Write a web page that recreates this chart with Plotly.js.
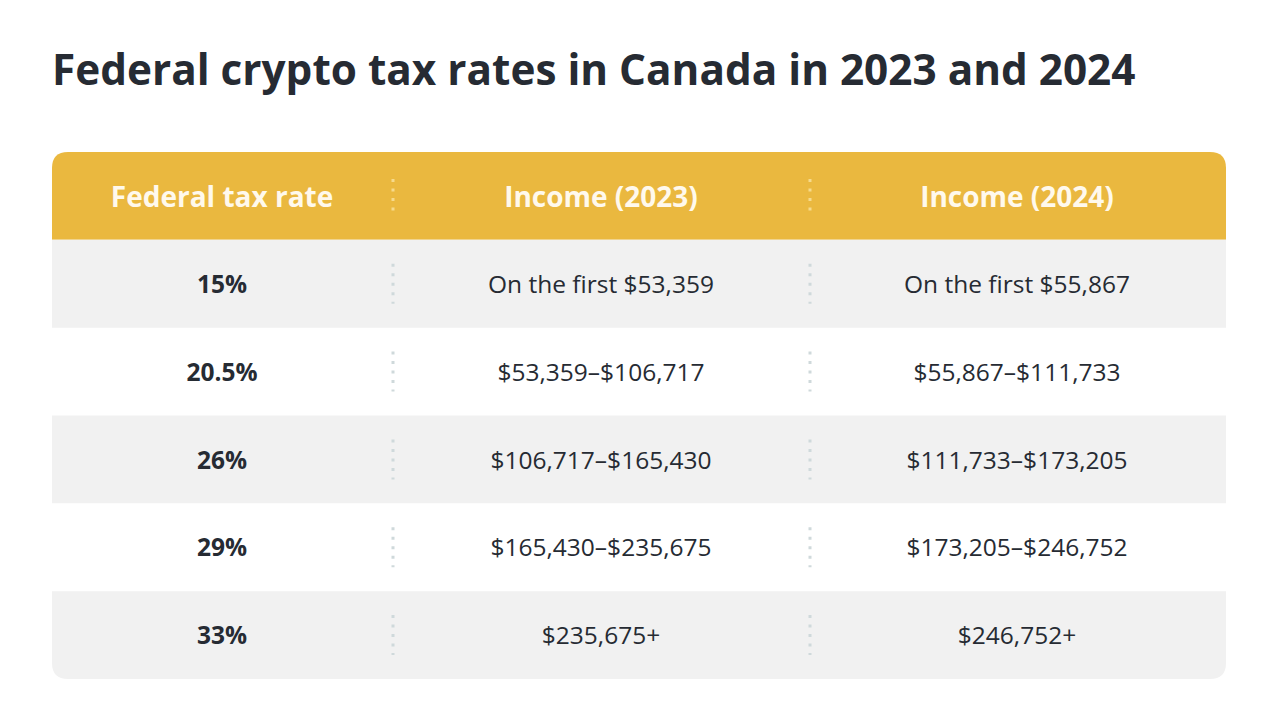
<!DOCTYPE html>
<html>
<head>
<meta charset="utf-8">
<script src="https://cdn.plot.ly/plotly-3.0.1.min.js"></script>
<style>html,body{margin:0;padding:0;background:#fff;}#chart{width:1278px;height:718px;}</style>
</head>
<body>
<div id="chart"></div>
<script>
const titleText = "Federal crypto tax rates in Canada in 2023 and 2024";
const headers = ["Federal tax rate", "Income (2023)", "Income (2024)"];
const rates = ["15%", "20.5%", "26%", "29%", "33%"];
const income2023 = ["On the first $53,359", "$53,359–$106,717", "$106,717–$165,430", "$165,430–$235,675", "$235,675+"];
const income2024 = ["On the first $55,867", "$55,867–$111,733", "$111,733–$173,205", "$173,205–$246,752", "$246,752+"];

// layout helpers (pixel-like x units, one y unit per row)
const W = 1174;
const colEdges = [0, 341, 758, W];
const colCenters = [170, 549, 965];
const nRows = rates.length + 1;
const rowPx = (718 - 152 - 39) / nRows;
const rX = 16, rY = 16 / rowPx;
const headShift = 4 / rowPx;
const textShift = 3 / rowPx;

const darkText = "#262B33";
const headerBg = "#EAB83F";
const grayBg = "#F1F1F1";

const shapes = [];
// header with rounded top corners
shapes.push({
  type: "path", xref: "x", yref: "y", layer: "below",
  path: `M0,1 L0,${rY} Q0,0 ${rX},0 L${W - rX},0 Q${W},0 ${W},${rY} L${W},1 Z`,
  fillcolor: headerBg, line: {width: 0}
});
// data rows
rates.forEach((_, i) => {
  const y0 = i + 1, y1 = i + 2;
  if (i % 2 === 0) {
    if (i === rates.length - 1) {
      shapes.push({
        type: "path", xref: "x", yref: "y", layer: "below",
        path: `M0,${y0} L${W},${y0} L${W},${y1 - rY} Q${W},${y1} ${W - rX},${y1} L${rX},${y1} Q0,${y1} 0,${y1 - rY} Z`,
        fillcolor: grayBg, line: {width: 0}
      });
    } else {
      shapes.push({type: "rect", xref: "x", yref: "y", layer: "below",
        x0: 0, x1: W, y0: y0, y1: y1, fillcolor: grayBg, line: {width: 0}});
    }
  }
});
// dotted separators
for (let r = 0; r < nRows; r++) {
  const c = r + 0.5;
  const half = r === 0 ? 17 / rowPx : 20 / rowPx;
  [colEdges[1], colEdges[2]].forEach(x => {
    shapes.push({type: "line", xref: "x", yref: "y", x0: x, x1: x,
      y0: c - half, y1: c + half,
      line: {color: r === 0 ? "#F6DA8C" : "#CFD9DB", width: 3, dash: "3px,6.5px"}});
  });
}

const rowY = rates.map((_, i) => i + 1.5 + textShift);
const headY = headers.map(() => 0.5 + headShift);
const traces = [
  {x: colCenters, y: headY, text: headers, mode: "text", type: "scatter",
   textposition: "middle center",
   textfont: {family: "Open Sans", size: 28, color: "#FFF9EC", weight: 700}},
  {x: rates.map(() => colCenters[0]), y: rowY, text: rates, mode: "text", type: "scatter",
   textposition: "middle center",
   textfont: {family: "Open Sans", size: 24.5, color: darkText, weight: 700}},
  {x: income2023.map(() => colCenters[1]), y: rowY, text: income2023, mode: "text", type: "scatter",
   textposition: "middle center",
   textfont: {family: "Open Sans", size: 24.5, color: darkText}},
  {x: income2024.map(() => colCenters[2]), y: rowY, text: income2024, mode: "text", type: "scatter",
   textposition: "middle center",
   textfont: {family: "Open Sans", size: 24.5, color: darkText}}
];

const layout = {
  width: 1278, height: 718,
  margin: {l: 52, r: 52, t: 152, b: 39, pad: 0},
  paper_bgcolor: "#ffffff", plot_bgcolor: "rgba(0,0,0,0)",
  showlegend: false, hovermode: false,
  title: {text: titleText, x: 52 / 1278, xref: "container", xanchor: "left",
    y: 1 - 70 / 718, yref: "container", yanchor: "middle",
    font: {family: "Open Sans", size: 42.3, color: darkText, weight: 700}},
  xaxis: {range: [0, W], visible: false, fixedrange: true},
  yaxis: {range: [nRows, 0], visible: false, fixedrange: true},
  shapes: shapes
};

Plotly.newPlot("chart", traces, layout, {displayModeBar: false, staticPlot: true});
</script>
</body>
</html>
